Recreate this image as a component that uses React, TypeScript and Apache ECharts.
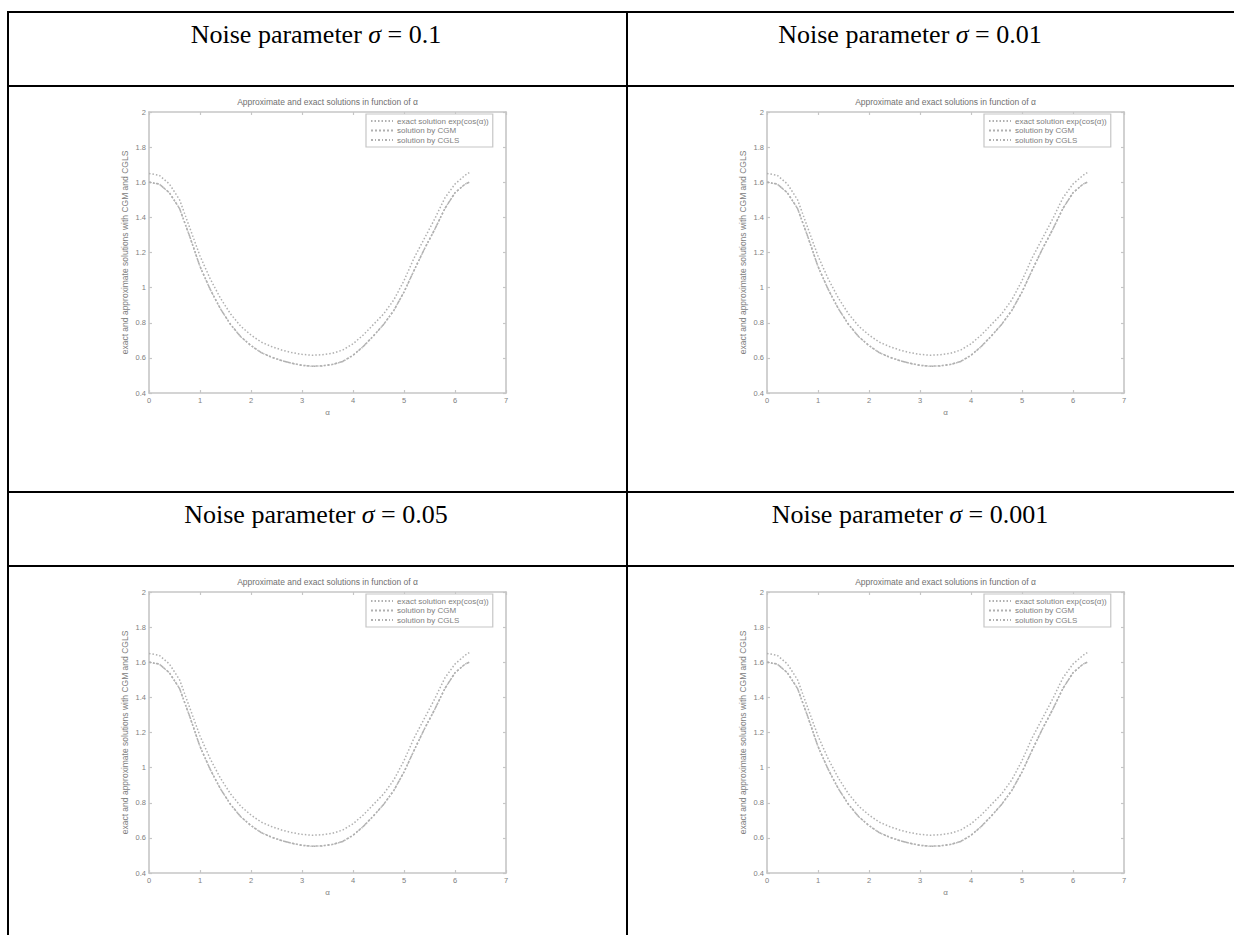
import React, { useEffect, useRef } from "react";
import * as echarts from "echarts";

// ---- data ----
const noiseLevels = ["0.1", "0.01", "0.05", "0.001"];
const tValues = [0, 0.2, 0.4, 0.6, 0.8, 1.0, 1.2, 1.4, 1.6, 1.8, 2.0, 2.2, 2.4, 2.6, 2.8, 3.0, 3.2, 3.4, 3.6, 3.8, 4.0, 4.2, 4.4, 4.6, 4.8, 5.0, 5.2, 5.4, 5.6, 5.8, 6.0, 6.2, 6.28];
const exactValues = [1.65, 1.64, 1.59, 1.5, 1.34, 1.18, 1.05, 0.94, 0.85, 0.78, 0.73, 0.69, 0.665, 0.645, 0.63, 0.62, 0.615, 0.618, 0.626, 0.645, 0.68, 0.73, 0.79, 0.85, 0.93, 1.04, 1.17, 1.28, 1.39, 1.51, 1.59, 1.64, 1.655];
const cgmValues = [1.6, 1.59, 1.54, 1.45, 1.29, 1.12, 0.99, 0.88, 0.79, 0.72, 0.67, 0.63, 0.605, 0.585, 0.57, 0.558, 0.553, 0.555, 0.563, 0.58, 0.615, 0.665, 0.725, 0.79, 0.87, 0.975, 1.1, 1.22, 1.33, 1.45, 1.54, 1.59, 1.6];
const cglsValues = [1.6, 1.59, 1.54, 1.45, 1.29, 1.12, 0.99, 0.88, 0.79, 0.72, 0.67, 0.63, 0.604, 0.584, 0.569, 0.557, 0.552, 0.554, 0.562, 0.579, 0.614, 0.664, 0.725, 0.79, 0.87, 0.975, 1.1, 1.22, 1.33, 1.45, 1.54, 1.59, 1.6];
const seriesNames = ["exact solution exp(cos(α))", "solution by CGM", "solution by CGLS"];
const plotTitle = "Approximate and exact solutions in function of α";
const xName = "α";
const yName = "exact and approximate solutions with CGM and CGLS";
const xMin = 0, xMax = 7, xStep = 1;
const yMin = 0.4, yMax = 2, yStep = 0.2;

// ---- layout ----
const GRID_W = 357;
const GRID_H = 281;
const cells = [
  { left: 149, top: 112, cx: 316, hy: 34 },
  { left: 767, top: 112, cx: 910, hy: 34 },
  { left: 149, top: 592, cx: 316, hy: 514 },
  { left: 767, top: 592, cx: 910, hy: 514 },
];

const AXIS_COLOR = "#c6c6c6";
const TEXT_COLOR = "#808080";
const CURVE_COLOR = "#b0b0b0";
const lineTypes: any[] = [[1.5, 2], [2, 2], [2, 2, 1, 2]];

export default function App() {
  const ref = useRef<HTMLDivElement>(null);
  useEffect(() => {
    if (!ref.current) return;
    const chart = echarts.init(ref.current, undefined, { renderer: "svg" });
    const grids: any[] = [];
    const xAxes: any[] = [];
    const yAxes: any[] = [];
    const series: any[] = [];
    const legends: any[] = [];
    const graphics: any[] = [];
    const valueSets = [exactValues, cgmValues, cglsValues];

    cells.forEach((c, i) => {
      grids.push({ left: c.left, top: c.top, width: GRID_W, height: GRID_H, containLabel: false });
      const axisCommon = {
        gridIndex: i,
        axisLine: { show: true, onZero: false, lineStyle: { color: AXIS_COLOR, width: 1.6 } },
        axisTick: { show: true, inside: true, length: 3, lineStyle: { color: AXIS_COLOR, width: 1.2 } },
        splitLine: { show: false },
      };
      xAxes.push({
        ...axisCommon,
        type: "value",
        position: "bottom",
        min: xMin,
        max: xMax,
        interval: xStep,
        name: xName,
        nameLocation: "middle",
        nameGap: 15,
        nameTextStyle: { color: TEXT_COLOR, fontSize: 8, fontFamily: "Liberation Sans" },
        axisLabel: { color: TEXT_COLOR, fontSize: 7.5, margin: 3, fontFamily: "Liberation Sans" },
      });
      xAxes.push({
        ...axisCommon,
        type: "value",
        position: "top",
        min: xMin,
        max: xMax,
        interval: xStep,
        axisLabel: { show: false },
      });
      yAxes.push({
        ...axisCommon,
        type: "value",
        position: "left",
        min: yMin,
        max: yMax,
        interval: yStep,
        name: yName,
        nameLocation: "middle",
        nameGap: 20,
        nameRotate: 90,
        nameTextStyle: { color: TEXT_COLOR, fontSize: 8.5, fontFamily: "Liberation Sans" },
        axisLabel: {
          color: TEXT_COLOR,
          fontSize: 7.5,
          margin: 3,
          fontFamily: "Liberation Sans",
          formatter: (v: number) => String(Math.round(v * 10) / 10),
        },
      });
      yAxes.push({
        ...axisCommon,
        type: "value",
        position: "right",
        min: yMin,
        max: yMax,
        interval: yStep,
        axisLabel: { show: false },
      });
      seriesNames.forEach((name, k) => {
        series.push({
          type: "line",
          name,
          xAxisIndex: 2 * i,
          yAxisIndex: 2 * i,
          symbol: "none",
          smooth: false,
          data: tValues.map((t, j) => [t, valueSets[k][j]]),
          lineStyle: { color: CURVE_COLOR, width: 1.5, type: lineTypes[k] },
          itemStyle: { color: CURVE_COLOR },
        });
      });
      legends.push({
        data: seriesNames,
        orient: "vertical",
        left: c.left + 217,
        top: c.top + 2,
        padding: [3, 4, 3, 4],
        itemGap: 1.5,
        itemWidth: 22,
        itemHeight: 8,
        backgroundColor: "#fff",
        borderColor: AXIS_COLOR,
        borderWidth: 1.2,
        borderRadius: 0,
        itemStyle: { color: "rgba(0,0,0,0)", borderWidth: 0, opacity: 0 },
        textStyle: { color: TEXT_COLOR, fontSize: 8, fontFamily: "Liberation Sans", padding: [0, 0, 0, -1] },
      });
      graphics.push({
        type: "text",
        x: c.left + GRID_W / 2,
        y: c.top - 10,
        style: {
          text: plotTitle,
          fill: "#707070",
          fontSize: 8.5,
          fontFamily: "Liberation Sans",
          align: "center",
          verticalAlign: "middle",
        },
      });
      graphics.push({
        type: "text",
        x: c.cx,
        y: c.hy,
        style: {
          text: `{n|Noise parameter }{s|σ}{n| = ${noiseLevels[i]}}`,
          align: "center",
          verticalAlign: "middle",
          rich: {
            n: { fontSize: 26, fontFamily: "Liberation Serif", fill: "#000" },
            s: { fontSize: 26, fontFamily: "Liberation Serif", fontStyle: "italic", fill: "#000" },
          },
        },
      });
    });

    // table lines
    const lineStyle = { stroke: "#000", lineWidth: 2 };
    const hLines = [12, 86, 492, 566];
    hLines.forEach((y) =>
      graphics.push({ type: "line", shape: { x1: 7, y1: y, x2: 1250, y2: y }, style: lineStyle, z: 100 })
    );
    const vLines = [8, 627];
    vLines.forEach((x) =>
      graphics.push({ type: "line", shape: { x1: x, y1: 11, x2: x, y2: 940 }, style: lineStyle, z: 100 })
    );

    chart.setOption({
      animation: false,
      backgroundColor: "#fff",
      grid: grids,
      xAxis: xAxes,
      yAxis: yAxes,
      series,
      legend: legends,
      graphic: graphics,
    });
    return () => chart.dispose();
  }, []);
  return (
    <div
      ref={ref}
      style={{ position: "absolute", left: 0, top: 0, width: 1234, height: 935, background: "#fff" }}
    />
  );
}
